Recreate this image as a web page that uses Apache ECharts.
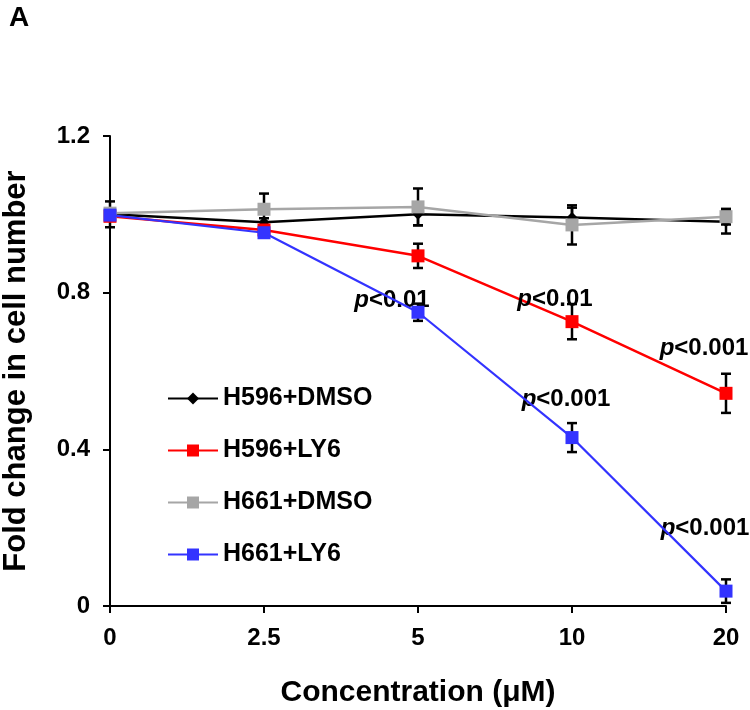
<!DOCTYPE html>
<html>
<head>
<meta charset="utf-8">
<script src="https://cdn.jsdelivr.net/npm/echarts@6/dist/echarts.min.js"></script>
<style>html,body{margin:0;padding:0;background:#fff;}#c{width:750px;height:710px;}</style>
</head>
<body>
<div id="c"></div>
<script>
const categories = ['0', '2.5', '5', '10', '20'];
const yTicks = [0, 0.4, 0.8, 1.2];
const seriesNames = ['H596+DMSO', 'H596+LY6', 'H661+DMSO', 'H661+LY6'];
const h596Dmso = [1.0, 0.98, 1.0, 0.992, 0.981];
const h596DmsoErr = [0.033, 0.01, 0.028, 0.025, 0.03];
const h596Ly6 = [0.995, 0.96, 0.894, 0.726, 0.543];
const h596Ly6Err = [0.01, 0.01, 0.031, 0.045, 0.05];
const h661Dmso = [1.003, 1.013, 1.019, 0.973, 0.994];
const h661DmsoErr = [0.01, 0.04, 0.047, 0.05, 0.02];
const h661Ly6 = [0.998, 0.953, 0.75, 0.43, 0.038];
const h661Ly6Err = [0.01, 0.01, 0.022, 0.037, 0.03];
const pLabelSeries = ['H661+LY6', 'H596+LY6', 'H596+LY6', 'H661+LY6', 'H661+LY6'];
const pLabelCats = ['5', '10', '20', '10', '20'];
const pLabelTexts = ['<0.01', '<0.01', '<0.001', '<0.001', '<0.001'];

const FONT = '"Liberation Sans", Arial, sans-serif';
const colors = ['#000000', '#ff0000', '#a6a6a6', '#3333ff'];
const symbols = ['diamond', 'rect', 'rect', 'rect'];
const symbolSizes = [11, 13, 13, 13];
const values = [h596Dmso, h596Ly6, h661Dmso, h661Ly6];
const errs = [h596DmsoErr, h596Ly6Err, h661DmsoErr, h661Ly6Err];
const labelOffsets = [[-26, -12], [-17, -22], [-22, -45], [-6, -38], [-21, -63]];

const chart = echarts.init(document.getElementById('c'), null, {renderer: 'canvas'});

const series = [];
values.forEach((vals, si) => {
  series.push({
    type: 'custom',
    name: seriesNames[si] + ' err',
    z: 1,
    silent: true,
    data: vals.map((v, i) => [i, v - errs[si][i], v + errs[si][i]]),
    renderItem: function (params, api) {
      const lo = api.coord([api.value(0), api.value(1)]);
      const hi = api.coord([api.value(0), api.value(2)]);
      const w = 5;
      const st = {stroke: '#000', lineWidth: 2.5};
      return {
        type: 'group',
        children: [
          {type: 'line', shape: {x1: lo[0], y1: lo[1], x2: hi[0], y2: hi[1]}, style: st},
          {type: 'line', shape: {x1: lo[0] - w, y1: lo[1], x2: lo[0] + w, y2: lo[1]}, style: st},
          {type: 'line', shape: {x1: hi[0] - w, y1: hi[1], x2: hi[0] + w, y2: hi[1]}, style: st}
        ]
      };
    }
  });
});
values.forEach((vals, si) => {
  const name = seriesNames[si];
  const mp = [];
  pLabelSeries.forEach((s, k) => {
    if (s === name) {
      const ci = categories.indexOf(pLabelCats[k]);
      mp.push({
        coord: [pLabelCats[k], vals[ci]],
        label: {offset: labelOffsets[k], formatter: '{i|p}{b|' + pLabelTexts[k] + '}'}
      });
    }
  });
  series.push({
    type: 'line',
    name: name,
    data: vals,
    z: 2 + si,
    color: colors[si],
    symbol: symbols[si],
    symbolSize: symbolSizes[si],
    showAllSymbol: true,
    lineStyle: {width: si === 3 ? 2.2 : 2.5, color: colors[si]},
    itemStyle: {color: colors[si], opacity: 1},
    emphasis: {disabled: true},
    animation: false,
    markPoint: mp.length ? {
      symbol: 'circle',
      symbolSize: 0,
      silent: true,
      animation: false,
      label: {
        show: true,
        position: 'inside',
        rich: {
          i: {fontFamily: FONT, fontStyle: 'italic', fontWeight: 'bold', fontSize: 24, color: '#000'},
          b: {fontFamily: FONT, fontWeight: 'bold', fontSize: 24, color: '#000'}
        }
      },
      data: mp
    } : undefined
  });
});

chart.setOption({
  animation: false,
  backgroundColor: '#fff',
  graphic: [{
    type: 'text',
    left: 9,
    top: 4,
    style: {text: 'A', fontSize: 28, fontWeight: 'bold', fontFamily: FONT, fill: '#000'}
  }],
  grid: {left: 110, right: 24, top: 136, bottom: 104, containLabel: false, outerBoundsMode: 'none'},
  legend: {
    orient: 'vertical',
    left: 167,
    top: 386,
    padding: 0,
    itemWidth: 50,
    itemHeight: 15,
    itemGap: 27,
    data: seriesNames,
    selectedMode: false,
    textStyle: {fontFamily: FONT, fontWeight: 'bold', fontSize: 25, color: '#000', lineHeight: 24}
  },
  xAxis: {
    type: 'category',
    data: categories,
    boundaryGap: false,
    name: 'Concentration (μM)',
    nameLocation: 'middle',
    nameGap: 72,
    nameTextStyle: {fontFamily: FONT, fontWeight: 'bold', fontSize: 30, color: '#000'},
    axisLine: {lineStyle: {color: '#000', width: 2}},
    axisTick: {show: true, alignWithLabel: true, length: 7, lineStyle: {color: '#000', width: 2}},
    axisLabel: {fontFamily: FONT, fontWeight: 'bold', fontSize: 24, color: '#000', margin: 20},
    splitLine: {show: false}
  },
  yAxis: {
    type: 'value',
    min: 0,
    max: 1.2,
    interval: 0.4,
    name: 'Fold change in cell number',
    nameLocation: 'middle',
    nameGap: 78,
    nameTextStyle: {fontFamily: FONT, fontWeight: 'bold', fontSize: 31, color: '#000'},
    axisLine: {show: true, lineStyle: {color: '#000', width: 2}},
    axisTick: {show: true, length: 7, lineStyle: {color: '#000', width: 2}},
    axisLabel: {fontFamily: FONT, fontWeight: 'bold', fontSize: 24, color: '#000', margin: 20,
      formatter: v => yTicks.indexOf(Math.round(v * 10) / 10) >= 0 ? String(Math.round(v * 10) / 10) : ''},
    splitLine: {show: false}
  },
  series: series
});
</script>
</body>
</html>
